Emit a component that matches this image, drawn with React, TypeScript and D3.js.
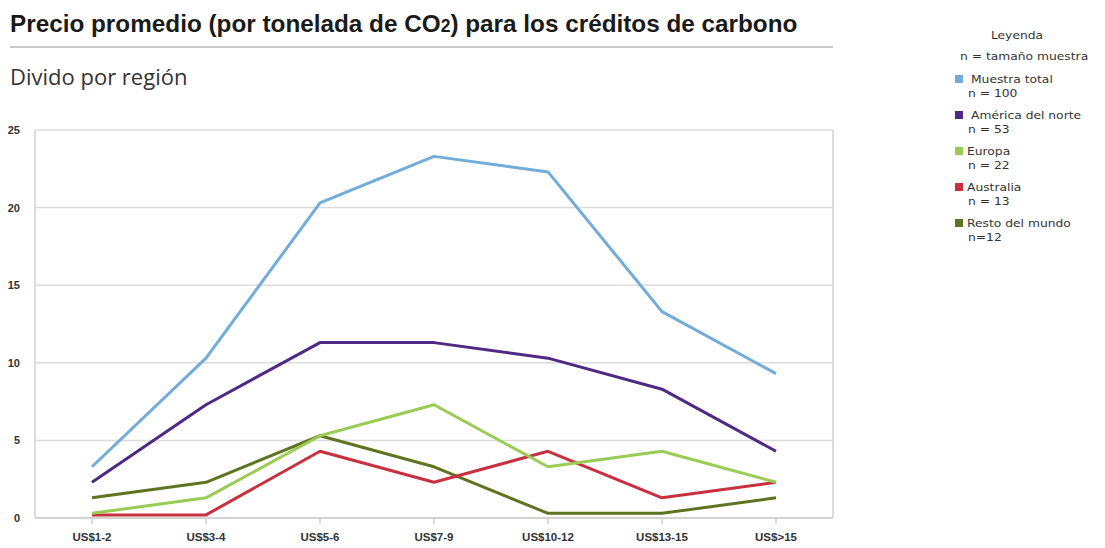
import { useEffect, useRef } from "react";
import * as d3 from "d3";

const categories = ["US$1-2", "US$3-4", "US$5-6", "US$7-9", "US$10-12", "US$13-15", "US$>15"];
const yTicks = [0, 5, 10, 15, 20, 25];

const muestraTotal = [3.3, 10.3, 20.3, 23.3, 22.3, 13.3, 9.3];
const americaNorte = [2.3, 7.3, 11.3, 11.3, 10.3, 8.3, 4.3];
const europa = [0.3, 1.3, 5.3, 7.3, 3.3, 4.3, 2.3];
const australia = [0.2, 0.2, 4.3, 2.3, 4.3, 1.3, 2.3];
const restoMundo = [1.3, 2.3, 5.3, 3.3, 0.3, 0.3, 1.3];

const seriesNames = ["Muestra total", "América del norte", "Europa", "Australia", "Resto del mundo"];
const sampleSizes = ["n = 100", "n = 53", "n = 22", "n = 13", "n=12"];
const seriesColors = ["#72acd9", "#4e2a84", "#99cc55", "#c8303f", "#5f7420"];

const WIDTH = 1105;
const HEIGHT = 548;

export default function App() {
    const svgRef = useRef<SVGSVGElement>(null);

    useEffect(() => {
        if (!svgRef.current) return;
        const svg = d3.select(svgRef.current);
        svg.selectAll("*").remove();

        const plot = { left: 35, right: 833, top: 130, bottom: 518 };
        const values = [muestraTotal, americaNorte, europa, australia, restoMundo];

        const x = d3.scalePoint<string>()
            .domain(categories)
            .range([plot.left, plot.right])
            .padding(0.5);
        const y = d3.scaleLinear().domain([0, 25]).range([plot.bottom, plot.top]);

        // title block
        const title = svg.append("text")
            .attr("x", 10)
            .attr("y", 32)
            .attr("font-family", "Liberation Sans, Arial, sans-serif")
            .attr("font-weight", "bold")
            .attr("font-size", 24.3)
            .attr("fill", "#1a1a1a");
        title.append("tspan").text("Precio promedio (por tonelada de CO");
        title.append("tspan").attr("font-size", 17.5).text("2");
        title.append("tspan").text(") para los créditos de carbono");

        svg.append("line")
            .attr("x1", 10).attr("x2", plot.right)
            .attr("y1", 47).attr("y2", 47)
            .attr("stroke", "#c8c8c8").attr("stroke-width", 2);

        svg.append("text")
            .attr("x", 10)
            .attr("y", 85)
            .attr("font-family", "Open Sans, sans-serif")
            .attr("font-size", 22)
            .attr("fill", "#333")
            .text("Divido por región");

        // grid
        const g = svg.append("g");
        g.selectAll("line.grid")
            .data(yTicks)
            .enter()
            .append("line")
            .attr("x1", plot.left).attr("x2", plot.right)
            .attr("y1", (d) => y(d)).attr("y2", (d) => y(d))
            .attr("stroke", (d) => (d === 0 ? "#c4c4c4" : "#dcdcdc"))
            .attr("stroke-width", 1.5);

        g.selectAll("line.side")
            .data([plot.left, plot.right])
            .enter()
            .append("line")
            .attr("x1", (d) => d).attr("x2", (d) => d)
            .attr("y1", plot.top).attr("y2", plot.bottom)
            .attr("stroke", "#d0d0d0")
            .attr("stroke-width", 1.5);

        g.selectAll("line.tick")
            .data(categories)
            .enter()
            .append("line")
            .attr("x1", (d) => x(d) ?? 0).attr("x2", (d) => x(d) ?? 0)
            .attr("y1", plot.bottom).attr("y2", plot.bottom + 6)
            .attr("stroke", "#d0d0d0")
            .attr("stroke-width", 1.5);

        g.selectAll("text.ylab")
            .data(yTicks)
            .enter()
            .append("text")
            .attr("x", 20)
            .attr("y", (d) => y(d) + 4)
            .attr("text-anchor", "end")
            .attr("font-family", "Liberation Sans, Arial, sans-serif")
            .attr("font-weight", "bold")
            .attr("font-size", 11)
            .attr("fill", "#333")
            .text((d) => d);

        g.selectAll("text.xlab")
            .data(categories)
            .enter()
            .append("text")
            .attr("x", (d) => x(d) ?? 0)
            .attr("y", 541)
            .attr("text-anchor", "middle")
            .attr("font-family", "Liberation Sans, Arial, sans-serif")
            .attr("font-weight", "bold")
            .attr("font-size", 11.5)
            .attr("fill", "#333")
            .text((d) => d);

        // lines
        const line = d3.line<number>()
            .x((_, i) => x(categories[i]) ?? 0)
            .y((d) => y(d));

        const drawOrder = [0, 1, 4, 3, 2];
        drawOrder.forEach((si) => {
            svg.append("path")
                .datum(values[si])
                .attr("d", line)
                .attr("fill", "none")
                .attr("stroke", seriesColors[si])
                .attr("stroke-width", 3)
                .attr("stroke-linejoin", "round");
        });

        // legend (text is a little wide in the source, so stretch it horizontally)
        const leg = svg.append("g")
            .attr("font-family", "DejaVu Sans, sans-serif")
            .attr("font-size", 11)
            .attr("fill", "#333");
        const legText = (tx: number, ty: number, s: string, anchor = "start") => {
            leg.append("g")
                .attr("transform", `translate(${tx},${ty}) scale(1.12,1)`)
                .append("text")
                .attr("text-anchor", anchor)
                .text(s);
        };
        legText(1017, 39, "Leyenda", "middle");
        legText(960, 60, "n = tamaño muestra");

        seriesNames.forEach((name, i) => {
            const cy = 79 + i * 36;
            leg.append("rect")
                .attr("x", 955).attr("y", cy - 4)
                .attr("width", 8).attr("height", 8)
                .attr("fill", seriesColors[i]);
            legText(i < 2 ? 971 : 967, cy + 4, name);
            legText(968, cy + 18, sampleSizes[i]);
        });
    }, []);

    return (
        <svg
            ref={svgRef}
            width={WIDTH}
            height={HEIGHT}
            style={{ position: "absolute", left: 0, top: 0, background: "#fff" }}
        />
    );
}
